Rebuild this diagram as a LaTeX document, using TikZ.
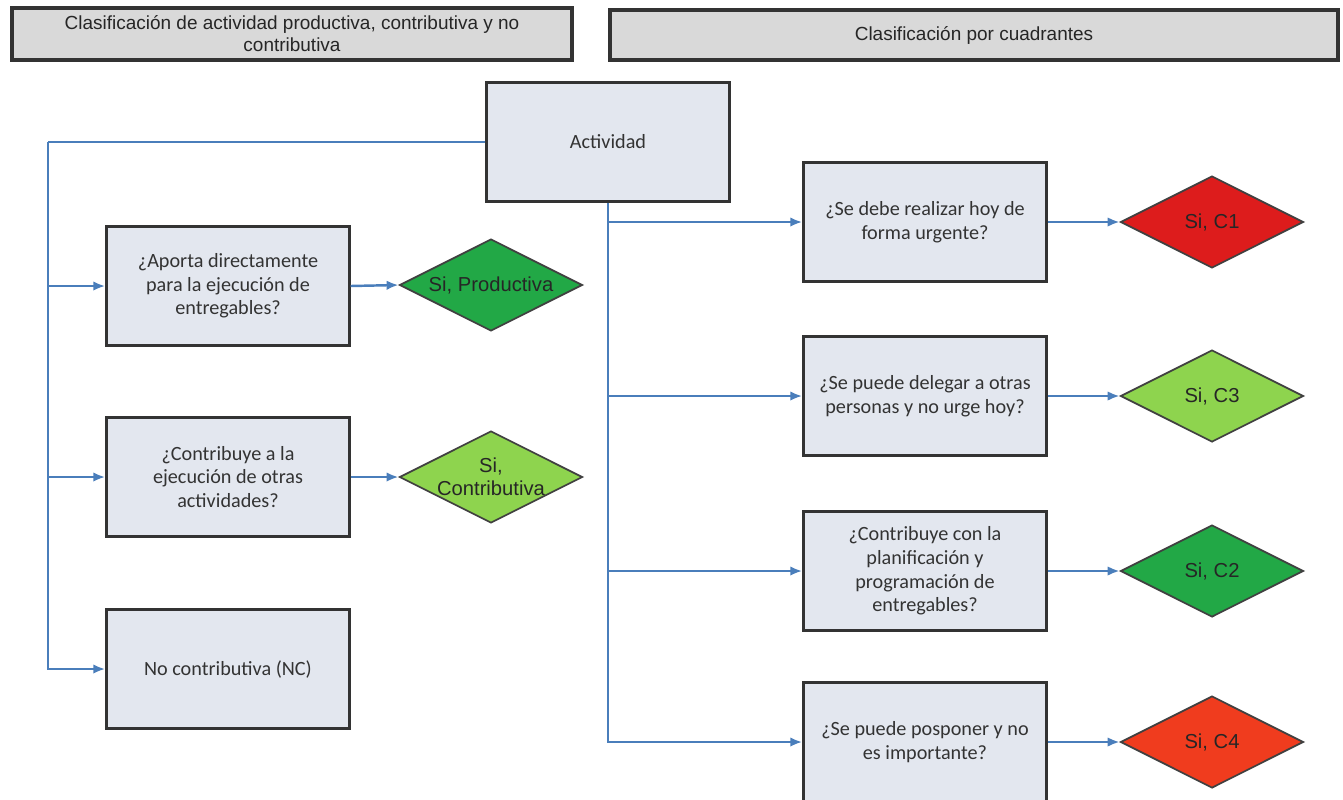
\documentclass[tikz,border=0pt]{standalone}
\usepackage{fontspec}
\setmainfont{Carlito}
\newfontfamily\headfont{Liberation Sans}
\usetikzlibrary{arrows.meta,shapes.geometric}

\definecolor{boxfill}{HTML}{E3E7EF}
\definecolor{boxline}{HTML}{333333}
\definecolor{headfill}{HTML}{D9D9D9}
\definecolor{linkblue}{HTML}{4A7EBB}
\definecolor{darkgreen}{HTML}{22A846}
\definecolor{lightgreen}{HTML}{8ED44E}
\definecolor{redone}{HTML}{DD1C1C}
\definecolor{redfour}{HTML}{F03C1E}

\tikzset{
  header/.style={draw=boxline, line width=1.8pt, fill=headfill, align=center, text=black!85,
    font=\headfont\fontsize{10.8}{12.5}\selectfont, inner sep=0pt},
  question/.style={draw=boxline, line width=1.4pt, fill=boxfill, align=center, text=black!80,
    minimum width=4.86cm, minimum height=2.38cm, inner sep=2pt,
    font=\fontsize{11.5}{13.4}\selectfont},
  answer/.style={diamond, draw=black!75, line width=1pt, aspect=2, inner sep=0pt,
    minimum width=3.66cm, minimum height=1.84cm, align=center, text=black!85,
    font=\headfont\fontsize{11.5}{13}\selectfont},
  link/.style={draw=linkblue, line width=1.4pt},
  linkarrow/.style={link, -{Latex[length=2.4mm,width=1.9mm]}}
}

\begin{document}
\begin{tikzpicture}[x=0.02cm, y=-0.02cm]
  \useasboundingbox (0,0) rectangle (1343,799);

  % encabezados
  \node[header, minimum width=11.2cm, minimum height=1.04cm] (head1) at (292,34)
    {Clasificación de actividad productiva, contributiva y no\\contributiva};
  \node[header, minimum width=14.56cm, minimum height=1.0cm] (head2) at (974,35)
    {Clasificación por cuadrantes};

  % actividad
  \node[question] (act) at (608,142) {Actividad};

  % columna izquierda
  \node[question] (prod) at (228,286) {¿Aporta directamente\\para la ejecución de\\entregables?};
  \node[question] (contr) at (228,477) {¿Contribuye a la\\ejecución de otras\\actividades?};
  \node[question] (nc) at (228,669) {No contributiva (NC)};
  \node[answer, fill=darkgreen] (siprod) at (491,285) {Si, Productiva};
  \node[answer, fill=lightgreen] (sicontr) at (491,477) {Si,\\Contributiva};

  % columna derecha
  \node[question] (urg) at (925,222) {¿Se debe realizar hoy de\\forma urgente?};
  \node[question] (deleg) at (925,396) {¿Se puede delegar a otras\\personas y no urge hoy?};
  \node[question] (plan) at (925,571) {¿Contribuye con la\\planificación y\\programación de\\entregables?};
  \node[question] (posp) at (925,742) {¿Se puede posponer y no\\es importante?};
  \node[answer, fill=redone] (c1) at (1212,222) {Si, C1};
  \node[answer, fill=lightgreen] (c3) at (1212,396) {Si, C3};
  \node[answer, fill=darkgreen] (c2) at (1212,571) {Si, C2};
  \node[answer, fill=redfour] (c4) at (1212,742) {Si, C4};

  % conectores izquierda
  \coordinate (spineL) at (48,142);
  \draw[link] (act.west) -- (spineL);
  \draw[linkarrow] (spineL) |- (nc.west);
  \draw[linkarrow] (spineL |- prod.west) -- (prod.west);
  \draw[linkarrow] (spineL |- contr.west) -- (contr.west);
  \draw[linkarrow] (prod.east) -- (siprod.west);
  \draw[linkarrow] (contr.east) -- (sicontr.west);

  % conectores derecha
  \draw[linkarrow] (act.south) |- (posp.west);
  \foreach \q in {urg,deleg,plan}
    \draw[linkarrow] (act.south |- \q.west) -- (\q.west);
  \draw[linkarrow] (urg.east) -- (c1.west);
  \draw[linkarrow] (deleg.east) -- (c3.west);
  \draw[linkarrow] (plan.east) -- (c2.west);
  \draw[linkarrow] (posp.east) -- (c4.west);
\end{tikzpicture}
\end{document}
